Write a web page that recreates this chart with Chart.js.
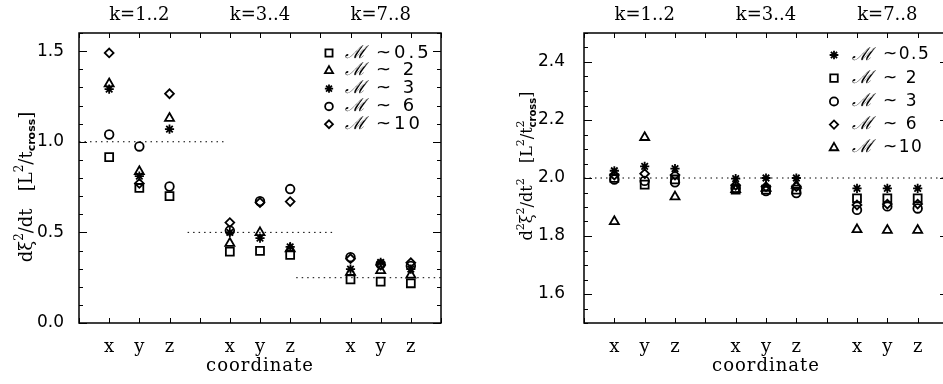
<!DOCTYPE html>
<html><head><meta charset="utf-8">
<script src="https://cdn.jsdelivr.net/npm/chart.js@4/dist/chart.umd.min.js"></script>
<style>
html,body{margin:0;padding:0;overflow:hidden;background:#fff;width:943px;height:384px;}
canvas{position:absolute;top:0}
#cl{left:0}
#cr{left:470px}
</style></head><body>
<canvas id="cl" width="470" height="384"></canvas>
<canvas id="cr" width="490" height="384"></canvas>
<script>
// ---- categories ----
const coords = ['x', 'y', 'z'];
const groups = ['k=1..2', 'k=3..4', 'k=7..8'];
const machLabels = ['~0.5', '~ 2', '~ 3', '~ 6', '~10'];

// ---- left panel: dξ²/dt, order k=1..2 (x,y,z), k=3..4 (x,y,z), k=7..8 (x,y,z) ----
const L_M05 = [0.915, 0.745, 0.700, 0.394, 0.398, 0.376, 0.241, 0.228, 0.219];
const L_M2  = [1.320, 0.836, 1.130, 0.440, 0.499, 0.410, 0.280, 0.290, 0.265];
const L_M3  = [1.290, 0.810, 1.070, 0.500, 0.468, 0.420, 0.297, 0.335, 0.297];
const L_M6  = [1.040, 0.974, 0.753, 0.510, 0.672, 0.739, 0.363, 0.324, 0.315];
const L_M10 = [1.490, 0.770, 1.265, 0.554, 0.665, 0.670, 0.355, 0.320, 0.333];
const L_refLevel = [1.0, 0.5, 0.25];
const L_refStart = [0, 3.6, 7.2];
const L_refEnd   = [4.8, 8.4, 12];
const L_yTicks = [0.0, 0.5, 1.0, 1.5];

// ---- right panel: d²ξ²/dt² ----
const R_M05 = [2.025, 2.040, 2.032, 1.998, 2.000, 2.000, 1.964, 1.964, 1.964];
const R_M2  = [2.000, 1.977, 1.995, 1.960, 1.960, 1.960, 1.930, 1.930, 1.930];
const R_M3  = [1.995, 1.990, 1.985, 1.965, 1.955, 1.948, 1.890, 1.902, 1.895];
const R_M6  = [2.010, 2.015, 2.010, 1.975, 1.970, 1.970, 1.907, 1.910, 1.910];
const R_M10 = [1.850, 2.140, 1.935, 1.960, 1.965, 1.975, 1.822, 1.820, 1.820];
const R_refLevel = [2.0];
const R_refStart = [0];
const R_refEnd   = [12];
const R_yTicks = [1.6, 1.8, 2.0, 2.2, 2.4];

// slot position of each (group, coordinate) pair on the x axis
const slots = [];
groups.forEach((g, gi) => coords.forEach((c, ci) => slots.push(gi * (coords.length + 1) + ci + 1)));
const pts = arr => arr.map((v, i) => ({x: slots[i], y: v}));
const tickLabel = v => { const m = Math.round(v) % (coords.length + 1); return m === 0 ? '' : coords[m - 1]; };

const SERIF = '"DejaVu Serif", serif';
const SANS = '"DejaVu Sans", sans-serif';
const MW = 1.8;

function sds(label, data, style, r) {
  return {type: 'scatter', label, data: pts(data), pointStyle: style, pointRadius: r, pointHoverRadius: r,
    pointBorderWidth: MW, borderColor: '#000', backgroundColor: 'rgba(0,0,0,0)', pointBackgroundColor: 'rgba(0,0,0,0)', order: 1};
}
function refLines(level, start, end) {
  return level.map((v, i) => ({type: 'line', data: [{x: start[i], y: v}, {x: end[i], y: v}],
    borderColor: '#000', borderWidth: 1, borderDash: [1.5, 4], pointRadius: 0, order: 10, label: '_ref'}));
}

function drawRich(ctx, parts, cx, cy, rot) {
  ctx.save();
  ctx.translate(cx, cy); ctx.rotate(rot);
  let total = 0, pend = 0;
  parts.forEach(p => { ctx.font = p.f; const w = ctx.measureText(p.t).width;
    if (p.stack) { pend = Math.max(pend, w); } else { total += Math.max(w, pend); pend = 0; } });
  total += pend;
  let x = -total / 2; pend = 0;
  ctx.fillStyle = '#000'; ctx.textBaseline = 'middle'; ctx.textAlign = 'left';
  parts.forEach(p => { ctx.font = p.f; const w = ctx.measureText(p.t).width;
    ctx.fillText(p.t, x, p.dy || 0);
    if (p.stack) { pend = Math.max(pend, w); } else { x += Math.max(w, pend); pend = 0; } });
  ctx.restore();
}

function makePlugin(cfg) {
  return {
    id: 'deco',
    afterDraw(chart) {
      const {ctx, chartArea: a, scales: {x, y}} = chart;
      ctx.save();
      ctx.strokeStyle = '#000';
      // inward tick marks
      ctx.lineWidth = 1;
      ctx.beginPath();
      x.ticks.forEach(t => { const px = Math.round(x.getPixelForValue(t.value)) + 0.5;
        ctx.moveTo(px, a.bottom); ctx.lineTo(px, a.bottom - 5);
        ctx.moveTo(px, a.top); ctx.lineTo(px, a.top + 5); });
      y.ticks.forEach(t => { const py = Math.round(y.getPixelForValue(t.value)) + 0.5;
        const len = cfg.isMajor(t.value) ? 8 : 4;
        ctx.moveTo(a.left, py); ctx.lineTo(a.left + len, py);
        ctx.moveTo(a.right, py); ctx.lineTo(a.right - len, py); });
      ctx.stroke();
      // frame
      ctx.lineWidth = 1.5;
      ctx.strokeRect(a.left, a.top, a.right - a.left, a.bottom - a.top);
      // group labels on top
      ctx.fillStyle = '#000'; ctx.textAlign = 'center'; ctx.textBaseline = 'middle';
      ctx.font = '18px ' + SERIF;
      groups.forEach((g, gi) => {
        const c = gi * (coords.length + 1) + (coords.length + 1) / 2;
        ctx.fillText(g, x.getPixelForValue(c), 15);
      });
      // x title
      ctx.font = '18px ' + SERIF;
      ctx.letterSpacing = '1px';
      ctx.fillText('coordinate', (a.left + a.right) / 2, 366);
      ctx.letterSpacing = '0px';
      // y title
      drawRich(ctx, cfg.yTitle, cfg.yTitleX, cfg.yTitleY, -Math.PI / 2);
      // legend
      const L = cfg.legend;
      cfg.legendOrder.forEach((di, row) => {
        const ds = chart.data.datasets[di];
        const yy = L.y0 + row * L.dy;
        ctx.lineWidth = MW; ctx.strokeStyle = '#000'; ctx.fillStyle = 'rgba(0,0,0,0)';
        Chart.helpers.drawPoint(ctx, {pointStyle: ds.pointStyle, radius: ds.pointRadius * L.scale, rotation: 0, borderWidth: MW}, L.mx, yy);
        ctx.fillStyle = '#000'; ctx.textAlign = 'left'; ctx.textBaseline = 'middle';
        ctx.font = L.mFont;
        ctx.fillText('\u2133', L.tx, yy);
        ctx.font = L.font;
        ctx.letterSpacing = L.ls + 'px';
        ctx.fillText(machLabels[di], L.sx, yy);
        ctx.letterSpacing = '0px';
      });
      ctx.restore();
    }
  };
}

function makeChart(id, datasets, refs, yMin, yMax, yStep, yTicks, leftW, rightPad, yPad, plugCfg) {
  const isMajor = v => yTicks.some(t => Math.abs(t - v) < 1e-6);
  plugCfg.isMajor = isMajor;
  return new Chart(document.getElementById(id), {
    data: {datasets: datasets.concat(refs)},
    options: {
      responsive: false, animation: false, devicePixelRatio: 1,
      layout: {padding: {left: 0, right: rightPad, top: 33, bottom: 0}},
      plugins: {legend: {display: false}, tooltip: {enabled: false}},
      scales: {
        x: {type: 'linear', min: 0, max: 12,
          ticks: {stepSize: 1, autoSkip: false, maxRotation: 0, color: '#000', padding: 6,
            font: {family: SERIF, size: 18}, callback: v => tickLabel(v)},
          grid: {display: false}, border: {display: false},
          afterFit: s => { s.height = 61; }},
        y: {type: 'linear', min: yMin, max: yMax,
          ticks: {stepSize: yStep, autoSkip: false, color: '#000', padding: yPad,
            font: {family: SANS, size: 17},
            callback: v => isMajor(v) ? v.toFixed(1) : ''},
          grid: {display: false}, border: {display: false},
          afterFit: s => { s.width = leftW; }}
      }
    },
    plugins: [makePlugin(plugCfg)]
  });
}

const supF = '12px ' + SERIF, mainF = '18px ' + SERIF, subF = 'bold 11px ' + SANS;
makeChart('cl',
  [sds('M~0.5', L_M05, 'rect', 5.6), sds('M~2', L_M2, 'triangle', 5.2), sds('M~3', L_M3, 'star', 4.6),
   sds('M~6', L_M6, 'circle', 4.3), sds('M~10', L_M10, 'rectRot', 4.4)],
  refLines(L_refLevel, L_refStart, L_refEnd), 0, 1.6, 0.1, L_yTicks, 79, 29, 7,
  {yTitleX: 27, yTitleY: 187,
   yTitle: [{t: 'd\u03BE', f: mainF}, {t: '2', f: supF, dy: -7}, {t: '/dt   [L', f: mainF}, {t: '2', f: supF, dy: -7},
            {t: '/t', f: mainF}, {t: 'cross', f: subF, dy: 5}, {t: ']', f: mainF}],
   legendOrder: [0, 1, 2, 3, 4],
   legend: {mx: 329, y0: 53, dy: 17.8, tx: 345, sx: 376, scale: 0.9, mFont: 'italic 18px ' + SERIF, font: '18px ' + SANS, ls: 3}});

const supF2 = '11px ' + SERIF, mainF2 = '16px ' + SERIF, subF2 = 'bold 10px ' + SANS;
makeChart('cr',
  [sds('M~0.5', R_M05, 'star', 4.6), sds('M~2', R_M2, 'rect', 5.6), sds('M~3', R_M3, 'circle', 4.3),
   sds('M~6', R_M6, 'rectRot', 4.4), sds('M~10', R_M10, 'triangle', 5.2)],
  refLines(R_refLevel, R_refStart, R_refEnd), 1.5, 2.5, 0.05, R_yTicks, 114, 12, 11,
  {yTitleX: 58, yTitleY: 166,
   yTitle: [{t: 'd', f: mainF2}, {t: '2', f: supF2, dy: -7}, {t: '\u03BE', f: mainF2}, {t: '2', f: supF2, dy: -7},
            {t: '/dt', f: mainF2}, {t: '2', f: supF2, dy: -7}, {t: '   [L', f: mainF2}, {t: '2', f: supF2, dy: -7},
            {t: '/t', f: mainF2}, {t: '2', f: supF2, dy: -7, stack: true}, {t: 'cross', f: subF2, dy: 5}, {t: ']', f: mainF2}],
   legendOrder: [0, 1, 2, 3, 4],
   legend: {mx: 364, y0: 55, dy: 23.2, tx: 382, sx: 413, scale: 0.95, mFont: 'italic 18px ' + SERIF, font: '17px ' + SANS, ls: 1.5}});
</script>
</body></html>
